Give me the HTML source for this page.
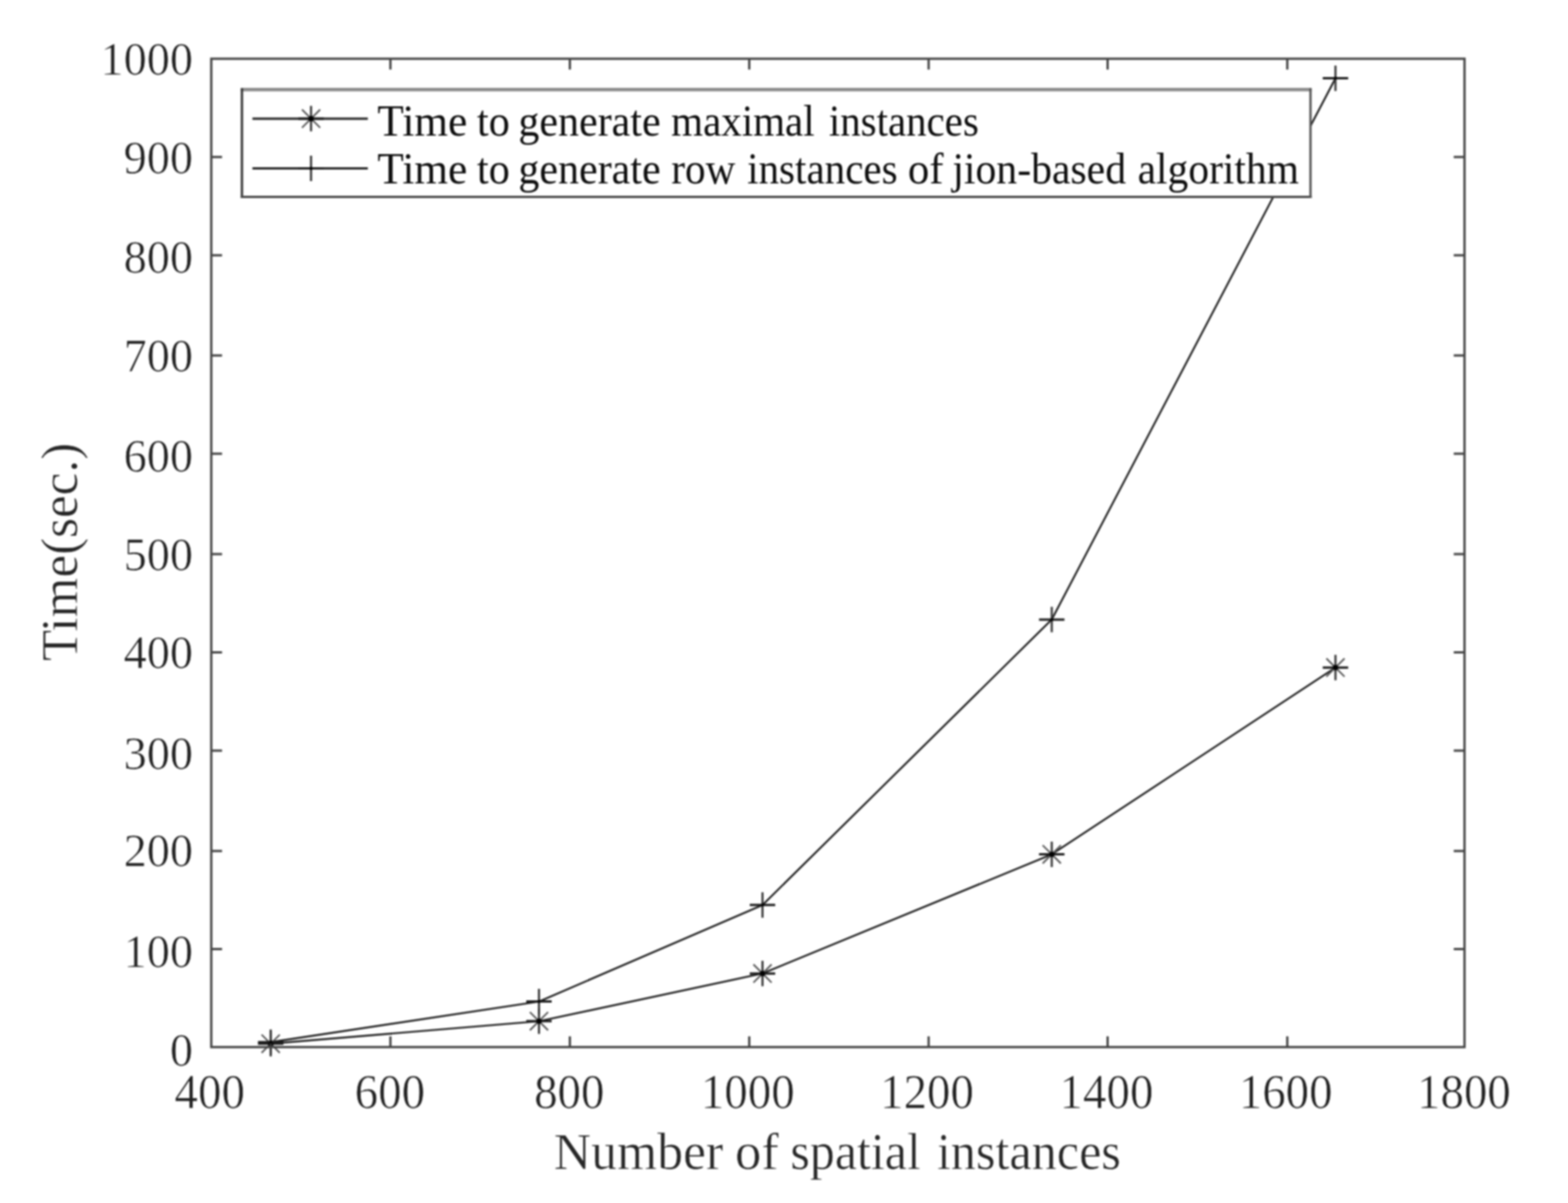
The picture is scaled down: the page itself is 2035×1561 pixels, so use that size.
<!DOCTYPE html>
<html lang="en"><head><meta charset="utf-8"><title>Time vs. number of spatial instances</title>
<style>
html,body{margin:0;padding:0;background:#fff}
body{width:2035px;height:1561px;overflow:hidden}
svg{display:block;position:absolute;left:0;top:0}
text{font-family:"Liberation Serif","DejaVu Serif",serif;fill:#202020;stroke:#fff;stroke-width:0.7px}
.tick{font-size:60px}.lab{font-size:66px;fill:#262626;stroke-width:0.55px}.leg{font-size:54px;fill:#0d0d0d;stroke:none}
.ax{stroke:#464646;stroke-width:3.0;fill:none}
.ln{stroke:#1c1c1c;stroke-width:2.4;fill:none;stroke-linejoin:round}
.mh{stroke:#1c1c1c;stroke-width:3;fill:none}.mv{stroke:#3a3a3a;stroke-width:2.8;fill:none}.md{stroke:#5a5a5a;stroke-width:2.2;fill:none}
.dot{fill:#000;stroke:none}
svg{filter:blur(0.8px)}
</style></head><body>
<svg width="2035" height="1561" viewBox="0 0 2035 1561">
<rect x="0" y="0" width="2035" height="1561" fill="#fff"/>
<g id="series">
<polyline class="ln" points="351.3,1354.3 699.5,1325.1 989.6,1263.2 1365,1108.6 1733.2,866.2"/>
<polyline class="ln" points="351.3,1352.3 699.5,1299.6 989.6,1174.3 1365,803.9 1733.2,101.6"/>
<path class="mh" d="M334.8 1354.3H367.8"/><path class="mv" d="M351.3 1337.8V1370.8"/><path class="md" d="M339.5 1342.5L363.1 1366.1M339.5 1366.1L363.1 1342.5"/><circle class="dot" cx="351.3" cy="1354.3" r="3.4"/>
<path class="mh" d="M683 1325.1H716"/><path class="mv" d="M699.5 1308.6V1341.6"/><path class="md" d="M687.7 1313.3L711.3 1336.9M687.7 1336.9L711.3 1313.3"/><circle class="dot" cx="699.5" cy="1325.1" r="3.4"/>
<path class="mh" d="M973.1 1263.2H1006.1"/><path class="mv" d="M989.6 1246.7V1279.7"/><path class="md" d="M977.8 1251.4L1001.4 1275M977.8 1275L1001.4 1251.4"/><circle class="dot" cx="989.6" cy="1263.2" r="3.4"/>
<path class="mh" d="M1348.5 1108.6H1381.5"/><path class="mv" d="M1365 1092.1V1125.1"/><path class="md" d="M1353.2 1096.8L1376.8 1120.4M1353.2 1120.4L1376.8 1096.8"/><circle class="dot" cx="1365" cy="1108.6" r="3.4"/>
<path class="mh" d="M1716.7 866.2H1749.7"/><path class="mv" d="M1733.2 849.7V882.7"/><path class="md" d="M1721.4 854.4L1745 878M1721.4 878L1745 854.4"/><circle class="dot" cx="1733.2" cy="866.2" r="3.4"/>
<path class="mh" d="M334.8 1352.3H367.8"/><path class="mv" d="M351.3 1335.8V1368.8"/><circle class="dot" cx="351.3" cy="1352.3" r="2"/>
<path class="mh" d="M683 1299.6H716"/><path class="mv" d="M699.5 1283.1V1316.1"/><circle class="dot" cx="699.5" cy="1299.6" r="2"/>
<path class="mh" d="M973.1 1174.3H1006.1"/><path class="mv" d="M989.6 1157.8V1190.8"/><circle class="dot" cx="989.6" cy="1174.3" r="2"/>
<path class="mh" d="M1348.5 803.9H1381.5"/><path class="mv" d="M1365 787.4V820.4"/><circle class="dot" cx="1365" cy="803.9" r="2"/>
<path class="mh" d="M1716.7 101.6H1749.7"/><path class="mv" d="M1733.2 85.1V118.1"/><circle class="dot" cx="1733.2" cy="101.6" r="2"/>
</g>
<g id="axes">
<rect class="ax" x="274.2" y="76.2" width="1626.5" height="1282.5"/>
<path class="ax" d="M506.7 1358.7V1344.7M506.7 76.2V90.2M739.6 1358.7V1344.7M739.6 76.2V90.2M972.4 1358.7V1344.7M972.4 76.2V90.2M1205.2 1358.7V1344.7M1205.2 76.2V90.2M1437.5 1358.7V1344.7M1437.5 76.2V90.2M1670.7 1358.7V1344.7M1670.7 76.2V90.2M274.2 203.8H288.2M1900.7 203.8H1886.7M274.2 331.3H288.2M1900.7 331.3H1886.7M274.2 461.3H288.2M1900.7 461.3H1886.7M274.2 588.8H288.2M1900.7 588.8H1886.7M274.2 719H288.2M1900.7 719H1886.7M274.2 846.5H288.2M1900.7 846.5H1886.7M274.2 974H288.2M1900.7 974H1886.7M274.2 1104.3H288.2M1900.7 1104.3H1886.7M274.2 1231.5H288.2M1900.7 1231.5H1886.7"/>
</g>
<g id="xticks" class="tick" text-anchor="middle">
<text transform="translate(272.2 1438.4) scale(1.015 1.06)">400</text>
<text transform="translate(506 1438.4) scale(1.015 1.06)">600</text>
<text transform="translate(738.8 1438.4) scale(1.015 1.06)">800</text>
<text transform="translate(970.5 1438.4) scale(1.015 1.06)">1000</text>
<text transform="translate(1203.1 1438.4) scale(1.015 1.06)">1200</text>
<text transform="translate(1436 1438.4) scale(1.015 1.06)">1400</text>
<text transform="translate(1668.6 1438.4) scale(1.015 1.06)">1600</text>
<text transform="translate(1899.9 1438.4) scale(1.015 1.06)">1800</text>
</g>
<g id="yticks" class="tick" text-anchor="end">
<text transform="translate(250.4 97) scale(1 1.025)">1000</text>
<text transform="translate(250.4 224.9) scale(1 1.025)">900</text>
<text transform="translate(250.4 354.4) scale(1 1.025)">800</text>
<text transform="translate(250.4 482.4) scale(1 1.025)">700</text>
<text transform="translate(250.4 611.9) scale(1 1.025)">600</text>
<text transform="translate(250.4 739.9) scale(1 1.025)">500</text>
<text transform="translate(250.4 867.4) scale(1 1.025)">400</text>
<text transform="translate(250.4 997.8) scale(1 1.025)">300</text>
<text transform="translate(250.4 1124.4) scale(1 1.025)">200</text>
<text transform="translate(250.4 1255.3) scale(1 1.025)">100</text>
<text transform="translate(250.4 1382.8) scale(1 1.025)">0</text>
</g>
<text class="lab" transform="translate(0 1517.4) scale(1 1.04)"><tspan x="718.87" textLength="219.77" lengthAdjust="spacingAndGlyphs">Number</tspan> <tspan x="953.92" textLength="56.63" lengthAdjust="spacingAndGlyphs">of</tspan> <tspan x="1025.7" textLength="169.38" lengthAdjust="spacingAndGlyphs">spatial</tspan> <tspan x="1215.92" textLength="238.79" lengthAdjust="spacingAndGlyphs">instances</tspan></text>
<text class="lab" transform="translate(100.3 716.2) rotate(-90) scale(1.006 1.04)" text-anchor="middle">Time(sec.)</text>
<g id="legend">
<rect x="314" y="116.2" width="1386.8" height="139.3" fill="#fff"/>
<path d="M312.5 116.3H1702.3" fill="none" stroke="#8c8c8c" stroke-width="4.6"/>
<path d="M314 114.5V257" fill="none" stroke="#333" stroke-width="3"/>
<path d="M312.5 255.5H1702.3" fill="none" stroke="#484848" stroke-width="3"/>
<path d="M1700.8 114.5V257" fill="none" stroke="#555" stroke-width="3"/>
<path d="M327.6 153.9H477.4M327.6 218.5H477.4" fill="none" stroke="#262626" stroke-width="3"/>
<path class="mh" d="M387.2 153.9H420.2"/><path class="mv" d="M403.7 137.4V170.4"/><path class="md" d="M391.9 142.1L415.5 165.7M391.9 165.7L415.5 142.1"/><circle class="dot" cx="403.7" cy="153.9" r="3.4"/>
<path class="mh" d="M387.2 218.5H420.2"/><path class="mv" d="M403.7 202V235"/><circle class="dot" cx="403.7" cy="218.5" r="2"/>
<text class="leg" transform="translate(0 175.5) scale(1 1.05)"><tspan x="489.86" textLength="116.52" lengthAdjust="spacingAndGlyphs">Time</tspan> <tspan x="618.99" textLength="42.66" lengthAdjust="spacingAndGlyphs">to</tspan> <tspan x="672.73" textLength="184.65" lengthAdjust="spacingAndGlyphs">generate</tspan> <tspan x="870.97" textLength="186.32" lengthAdjust="spacingAndGlyphs">maximal</tspan> <tspan x="1075.77" textLength="194.54" lengthAdjust="spacingAndGlyphs">instances</tspan></text>
<text class="leg" transform="translate(0 238) scale(1 1.05)"><tspan x="489.86" textLength="116.52" lengthAdjust="spacingAndGlyphs">Time</tspan> <tspan x="618.99" textLength="42.66" lengthAdjust="spacingAndGlyphs">to</tspan> <tspan x="672.73" textLength="184.65" lengthAdjust="spacingAndGlyphs">generate</tspan> <tspan x="871.21" textLength="83.12" lengthAdjust="spacingAndGlyphs">row</tspan> <tspan x="969.67" textLength="195.26" lengthAdjust="spacingAndGlyphs">instances</tspan> <tspan x="1178.24" textLength="46.33" lengthAdjust="spacingAndGlyphs">of</tspan> <tspan x="1235.9" textLength="225.6" lengthAdjust="spacingAndGlyphs">jion-based</tspan> <tspan x="1476.4" textLength="209.46" lengthAdjust="spacingAndGlyphs">algorithm</tspan></text>
</g>
</svg>
</body></html>
